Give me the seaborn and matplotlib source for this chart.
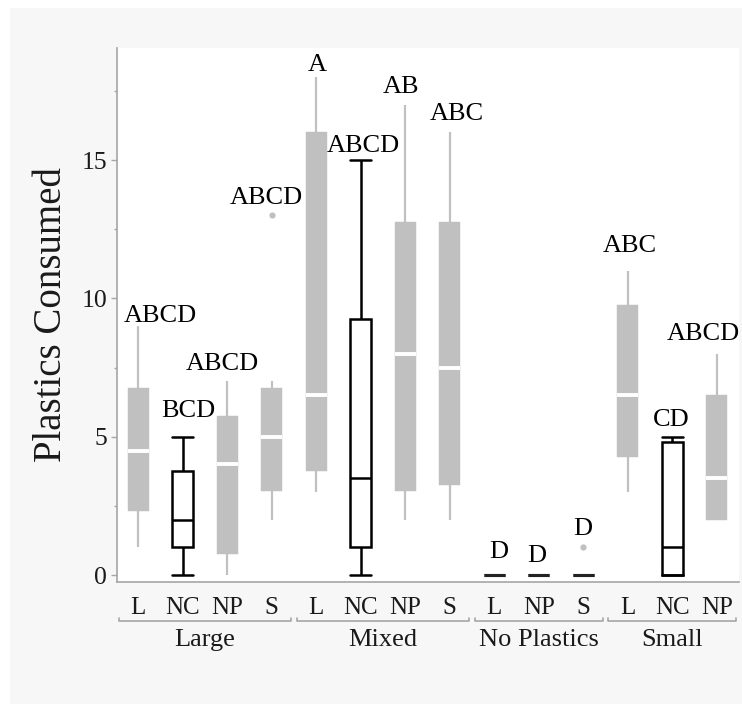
import numpy as np
import pandas as pd
import matplotlib
matplotlib.use("Agg")
import matplotlib.pyplot as plt
import matplotlib.transforms as mtransforms
from matplotlib.patches import Rectangle
from matplotlib.ticker import MultipleLocator
import seaborn as sns

# five-number summaries (one entry per box)
groups = ["Large"] * 4 + ["Mixed"] * 4 + ["No Plastics"] * 3 + ["Small"] * 3
treatments = ["L", "NC", "NP", "S", "L", "NC", "NP", "S", "L", "NP", "S", "L", "NC", "NP"]
whisk_lo = [1.0, 0.0, 0.0, 2.0, 3.0, 0.0, 2.0, 2.0, 0.0, 0.0, 0.0, 3.0, 0.0, 2.0]
q1 = [2.3, 1.0, 0.75, 3.05, 3.75, 1.0, 3.05, 3.25, 0.0, 0.0, 0.0, 4.25, 0.0, 2.0]
medians = [4.5, 2.0, 4.0, 5.0, 6.5, 3.5, 8.0, 7.5, 0.0, 0.0, 0.0, 6.5, 1.0, 3.5]
q3 = [6.75, 3.75, 5.75, 6.75, 16.0, 9.25, 12.75, 12.75, 0.0, 0.0, 0.0, 9.75, 4.8, 6.5]
whisk_hi = [9.0, 5.0, 7.0, 7.0, 18.0, 15.0, 17.0, 16.0, 0.0, 0.0, 0.0, 11.0, 5.0, 8.0]
letters = ["ABCD", "BCD", "ABCD", "ABCD", "A", "ABCD", "AB", "ABC",
           "D", "D", "D", "ABC", "CD", "ABCD"]

# outlying points
out_group = ["Large", "No Plastics"]
out_treat = ["S", "S"]
out_value = [13.0, 1.0]

# label placement (layout only)
letter_dx = [0.49, 0.13, -0.10, -0.13, 0.02, 0.05, -0.09, 0.17,
             0.10, -0.04, 0.0, 0.05, -0.02, -0.31]
letter_dy = [0.14, 0.73, 0.40, 0.42, 0.22, 0.29, 0.44, 0.43,
             0.60, 0.49, 0.46, 0.68, 0.40, 0.50]

keys = [f"{g} {t}" for g, t in zip(groups, treatments)]

rows = []
for k, g, t, a, b, c, d, e in zip(keys, groups, treatments, whisk_lo, q1, medians, q3, whisk_hi):
    for v in (a, b, c, d, e):
        rows.append({"key": k, "group": g, "treat": t, "value": v})
df = pd.DataFrame(rows)
outs = pd.DataFrame({"key": [f"{g} {t}" for g, t in zip(out_group, out_treat)],
                     "value": out_value})

sns.set_style("white")
plt.rcParams["font.family"] = ["Liberation Serif", "DejaVu Serif"]

GRAY = "#c0c0c0"
BOXW = 0.47
fig = plt.figure(figsize=(7.42, 7.04), dpi=100, facecolor="white")
fig.add_artist(Rectangle((10 / 742, 0), 1, (704 - 8) / 704, transform=fig.transFigure,
                         facecolor="#f7f7f7", edgecolor="none", zorder=-10))
ax = fig.add_axes([117 / 742, (704 - 582) / 704, (739 - 117) / 742, (582 - 48) / 704])
ax.set_facecolor("white")

gray_mask = (df["treat"] != "NC") & (df["group"] != "No Plastics")
sns.boxplot(data=df[gray_mask], x="key", y="value", order=keys, ax=ax,
            whis=(0, 100), width=BOXW, color=GRAY, linecolor=GRAY, saturation=1,
            linewidth=1.6, showcaps=False, showfliers=False,
            boxprops={"linewidth": 0.3},
            medianprops={"color": "white", "linewidth": 2.8})

nc_kws = dict(data=df[df["treat"] == "NC"], x="key", y="value", order=keys, ax=ax,
              whis=(0, 100), width=BOXW, color="white", linecolor="black", saturation=1,
              linewidth=1.8, showfliers=False)
try:
    sns.boxplot(capwidths=BOXW, **nc_kws)
except TypeError:
    sns.boxplot(**nc_kws)

sns.boxplot(data=df[df["group"] == "No Plastics"], x="key", y="value", order=keys, ax=ax,
            whis=(0, 100), width=BOXW, color="#222222", linecolor="#222222", saturation=1,
            linewidth=2.2, showcaps=False, showfliers=False)
sns.stripplot(data=outs, x="key", y="value", order=keys, ax=ax, jitter=False,
              color=GRAY, size=4.5, linewidth=0)

ax.set_xlim(-0.474, len(keys) - 0.5)
ax.set_ylim(-0.25, 19.05)
ax.yaxis.set_major_locator(MultipleLocator(5))
ax.yaxis.set_minor_locator(MultipleLocator(2.5))
ax.tick_params(axis="y", which="major", left=True, length=4, width=1, color="#a6a6a6",
               labelsize=18.5, labelcolor="#1a1a1a", pad=3)
ax.tick_params(axis="y", which="minor", left=True, length=2.5, width=1, color="#a6a6a6")
ax.set_xticks(range(len(keys)))
ax.set_xticklabels(treatments)
ax.tick_params(axis="x", bottom=False, labelsize=18, labelcolor="#1a1a1a", pad=7)
for side in ("top", "right"):
    ax.spines[side].set_visible(False)
for side in ("left", "bottom"):
    ax.spines[side].set_color("#a6a6a6")
    ax.spines[side].set_linewidth(1.2)

ax.set_xlabel("")
ax.set_ylabel("Plastics Consumed", fontsize=28, color="#1a1a1a")
ax.yaxis.label.set_va("center")
ax.yaxis.set_label_coords(-0.106, 0.5)

# letters above each box
for i, (lab, hi, dx, dy) in enumerate(zip(letters, whisk_hi, letter_dx, letter_dy)):
    top = max([hi] + [v for g, t, v in zip(out_group, out_treat, out_value)
                      if f"{g} {t}" == keys[i]])
    ax.text(i + dx, top + dy, lab, ha="center", va="baseline", fontsize=19, color="black")

# group brackets under the tick labels
trans = mtransforms.blended_transform_factory(ax.transData, ax.transAxes)
order_groups = list(dict.fromkeys(groups))
for g in order_groups:
    idx = [i for i, gg in enumerate(groups) if gg == g]
    x0, x1 = idx[0] - 0.44, idx[-1] + 0.44
    ax.plot([x0, x0, x1, x1], [-0.067, -0.073, -0.073, -0.067], transform=trans,
            color="#a6a6a6", linewidth=1.2, clip_on=False)
    ax.text((idx[0] + idx[-1]) / 2, -0.109, g, transform=trans, ha="center", va="center",
            fontsize=19, color="#1a1a1a")

fig.savefig("out.png", dpi=100, facecolor=fig.get_facecolor())
